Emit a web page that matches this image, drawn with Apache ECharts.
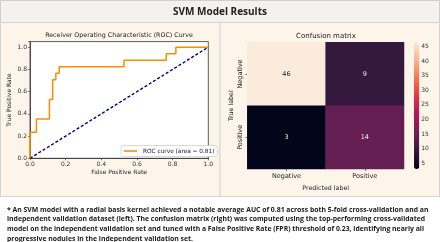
<!DOCTYPE html>
<html>
<head>
<meta charset="utf-8">
<script src="https://cdn.jsdelivr.net/npm/echarts@6/dist/echarts.min.js"></script>
<style>
html,body{margin:0;padding:0;background:#ffffff;}
#c{width:440px;height:242px;}
</style>
</head>
<body>
<div id="c"></div>
<script>
// ---- data ----
const fpr = [0, 0, 0.036, 0.036, 0.109, 0.109, 0.127, 0.127, 0.145, 0.145, 0.164, 0.164, 0.527, 0.527, 0.764, 0.764, 0.818, 0.818, 1.0];
const tpr = [0, 0.235, 0.235, 0.353, 0.353, 0.529, 0.529, 0.706, 0.706, 0.765, 0.765, 0.824, 0.824, 0.882, 0.882, 0.941, 0.941, 1.0, 1.0];
const chanceX = [0, 1];
const chanceY = [0, 1];
const cmLabels = ['Negative', 'Positive'];
const cmValues = [[46, 9], [3, 14]]; // rows: true label, cols: predicted
const cbarTicks = [5, 10, 15, 20, 25, 30, 35, 40, 45];
const headerText = 'SVM Model Results';
const noteLines = [
  '* An SVM model with a radial basis kernel achieved a notable average AUC of 0.81 across both 5-fold cross-validation and an',
  'independent validation dataset (left). The confusion matrix (right) was computed using the top-performing cross-validated',
  'model on the independent validation set and tuned with a False Positive Rate (FPR) threshold of 0.23, identifying nearly all',
  'progressive nodules in the independent validation set.'
];

const rocket = ['#03051a','#35193e','#701f57','#ad1759','#e13342','#f37651','#f6b48f','#faebdd'];
const F = 'DejaVu Sans';

const rocData = fpr.map((x, i) => [x, tpr[i]]);
const diagData = chanceX.map((x, i) => [x, chanceY[i]]);
const cmData = [];
cmValues.forEach((row, r) => row.forEach((v, c) => {
  cmData.push({value: [c, r, v], label: {color: v > 30 ? '#262626' : '#f3ece8'}});
}));

const chart = echarts.init(document.getElementById('c'), null, {renderer: 'canvas'});
chart.setOption({
  animation: false,
  backgroundColor: '#ffffff',
  graphic: [
    {type: 'rect', z: -10, shape: {x: 0.5, y: 0.5, width: 439, height: 22}, style: {fill: '#f4f2ef', stroke: '#cfcfcf', lineWidth: 1}},
    {type: 'rect', z: -10, shape: {x: 0.5, y: 22.5, width: 219.5, height: 174}, style: {fill: '#fdf5ea', stroke: '#d4d4d4', lineWidth: 1}},
    {type: 'rect', z: -10, shape: {x: 220, y: 22.5, width: 219.5, height: 174}, style: {fill: '#fdf5ea', stroke: '#d4d4d4', lineWidth: 1}},
    {type: 'text', z: 10, style: {text: headerText, x: 220, y: 12, textAlign: 'center', textVerticalAlign: 'middle', font: 'bold 10px "Open Sans"', fill: '#222'}},
    {type: 'text', z: 10, style: {text: noteLines.join('\n'), x: 7, y: 205, textAlign: 'left', textVerticalAlign: 'top', font: 'bold 6.85px "Open Sans"', lineHeight: 9.6, fill: '#1a1a1a'}}
  ],
  title: [
    {text: 'Receiver Operating Characteristic (ROC) Curve', left: 119, top: 32, textAlign: 'center', padding: 0,
     textStyle: {fontFamily: F, fontSize: 6.3, fontWeight: 'normal', color: '#222'}},
    {text: 'Confusion matrix', left: 326, top: 32.5, textAlign: 'center', padding: 0,
     textStyle: {fontFamily: F, fontSize: 7, fontWeight: 'normal', color: '#222'}}
  ],
  legend: {
    data: [{name: 'ROC curve (area = 0.81)', icon: 'rect'}],
    left: 121, top: 145.5, padding: [2.5, 3, 2.5, 3], itemWidth: 13, itemHeight: 1.6, itemGap: 4,
    backgroundColor: '#ffffff', borderColor: '#d0d0d0', borderWidth: 0.8, borderRadius: 2,
    textStyle: {fontFamily: F, fontSize: 5.8, color: '#222', padding: [0, 0, 0, 1]}
  },
  grid: [
    {left: 30, top: 41.6, width: 178.3, height: 116.7, show: true, backgroundColor: '#ffffff', borderColor: '#333', borderWidth: 0.8},
    {left: 247.3, top: 42.3, width: 156.7, height: 126.7},
    {left: 414, top: 42.3, width: 5.3, height: 126.7}
  ],
  xAxis: [
    {gridIndex: 0, type: 'value', min: 0, max: 1, interval: 0.2,
     name: 'False Positive Rate', nameLocation: 'middle', nameGap: 11,
     nameTextStyle: {fontFamily: F, fontSize: 6, color: '#222'},
     axisLine: {show: true, lineStyle: {color: '#333', width: 0.8}},
     axisTick: {show: true, length: 2, lineStyle: {color: '#333', width: 0.6}},
     axisLabel: {fontFamily: F, fontSize: 6, color: '#333', margin: 3, formatter: v => v.toFixed(1)},
     splitLine: {show: false}},
    {gridIndex: 1, type: 'category', data: cmLabels,
     name: 'Predicted label', nameLocation: 'middle', nameGap: 16,
     nameTextStyle: {fontFamily: F, fontSize: 6.3, color: '#222'},
     axisLine: {show: false},
     axisTick: {show: true, alignWithLabel: true, length: 2, lineStyle: {color: '#333', width: 0.6}},
     axisLabel: {fontFamily: F, fontSize: 6.5, color: '#222', margin: 4},
     splitLine: {show: false}},
    {gridIndex: 2, type: 'value', show: false, min: 0, max: 1}
  ],
  yAxis: [
    {gridIndex: 0, type: 'value', min: 0, max: 1.05, interval: 0.2,
     name: 'True Positive Rate', nameLocation: 'middle', nameGap: 18,
     nameTextStyle: {fontFamily: F, fontSize: 6, color: '#222'},
     axisLine: {show: true, lineStyle: {color: '#333', width: 0.8}},
     axisTick: {show: true, length: 2, lineStyle: {color: '#333', width: 0.6}},
     axisLabel: {fontFamily: F, fontSize: 6, color: '#333', margin: 3, formatter: v => v > 1.001 ? '' : v.toFixed(1)},
     splitLine: {show: false}},
    {gridIndex: 1, type: 'category', data: cmLabels, inverse: true,
     name: 'True label', nameLocation: 'middle', nameGap: 13,
     nameTextStyle: {fontFamily: F, fontSize: 6.3, color: '#222'},
     axisLine: {show: false},
     axisTick: {show: true, alignWithLabel: true, length: 2, lineStyle: {color: '#333', width: 0.6}},
     axisLabel: {fontFamily: F, fontSize: 6.5, color: '#222', margin: 3, rotate: 90},
     splitLine: {show: false}},
    {gridIndex: 2, type: 'value', position: 'right', min: 3, max: 46.4,
     axisLine: {show: false},
     axisTick: {show: true, length: 2, lineStyle: {color: '#333', width: 0.6}, customValues: cbarTicks},
     axisLabel: {fontFamily: F, fontSize: 6, color: '#333', margin: 2, customValues: cbarTicks},
     splitLine: {show: false}}
  ],
  visualMap: {
    type: 'continuous', min: 3, max: 46, dimension: 2, seriesIndex: 2,
    calculable: false, realtime: false, hoverLink: false,
    orient: 'vertical', left: 414, top: 42.3, padding: 0, itemWidth: 5.3, itemHeight: 126.7,
    text: null, showLabel: false,
    inRange: {color: rocket}
  },
  series: [
    {name: 'ROC curve (area = 0.81)', type: 'line', xAxisIndex: 0, yAxisIndex: 0, data: rocData,
     showSymbol: false, symbol: 'none', clip: false, z: 3,
     lineStyle: {color: '#ff8c00', width: 1.5}, itemStyle: {color: '#ff8c00'}},
    {name: 'chance', type: 'line', xAxisIndex: 0, yAxisIndex: 0, data: diagData,
     showSymbol: false, symbol: 'none', z: 2,
     lineStyle: {color: '#000080', width: 1.4, type: [3, 2]}, itemStyle: {color: '#000080'}},
    {name: 'cm', type: 'heatmap', xAxisIndex: 1, yAxisIndex: 1, data: cmData,
     label: {show: true, fontFamily: F, fontSize: 6.5},
     itemStyle: {borderWidth: 0}}
  ]
});
</script>
</body>
</html>
